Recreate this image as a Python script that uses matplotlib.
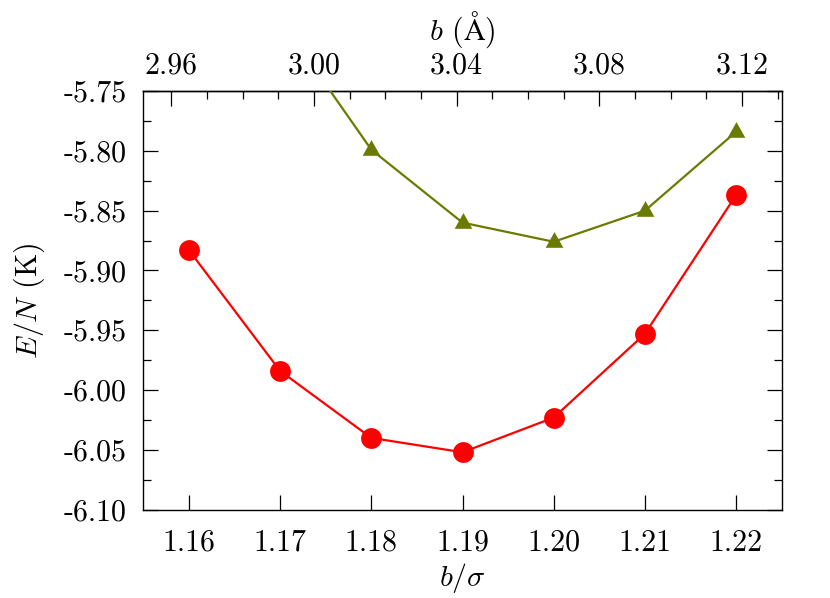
import matplotlib
matplotlib.use("Agg")
import matplotlib.pyplot as plt
from matplotlib.path import Path
from matplotlib.ticker import MultipleLocator, FixedLocator, FuncFormatter

# Data
b_sigma_red = [1.16, 1.17, 1.18, 1.19, 1.20, 1.21, 1.22]
energy_red = [-5.883, -5.984, -6.040, -6.052, -6.023, -5.953, -5.837]
b_sigma_green = [1.17, 1.18, 1.19, 1.20, 1.21, 1.22]
energy_green = [-5.690, -5.799, -5.860, -5.876, -5.850, -5.784]
top_ticks = [2.96, 3.00, 3.04, 3.08, 3.12]
sigma = 2.556  # Angstrom, conversion for top axis

plt.rcParams['font.family'] = 'serif'
plt.rcParams['font.serif'] = ['cmr10']
plt.rcParams['mathtext.fontset'] = 'cm'
plt.rcParams['axes.unicode_minus'] = False
plt.rcParams['axes.formatter.use_mathtext'] = False

fs = 21.5
fig = plt.figure(figsize=(8.3, 5.98), dpi=100)
ax = fig.add_axes([0.1727, 0.1477, 0.9418 - 0.1727, 0.8477 - 0.1477])

# triangle marker centred on centroid
tri = Path([(0, 1.0), (-0.85, -0.51), (0.85, -0.51), (0, 1.0)],
           [Path.MOVETO, Path.LINETO, Path.LINETO, Path.CLOSEPOLY])

olive = '#6b7b00'
ax.plot(b_sigma_green, energy_green, color=olive, lw=1.6, marker=tri,
        ms=15, mew=0, mfc=olive, zorder=3)
ax.plot(b_sigma_red, energy_red, color='#ff0000', lw=1.6, marker='o',
        ms=15, mew=0, mfc='#ff0000', zorder=3)

ax.set_xlim(1.155, 1.225)
ax.set_ylim(-6.10, -5.75)

ax.xaxis.set_major_locator(MultipleLocator(0.01))
ax.yaxis.set_major_locator(MultipleLocator(0.05))
ax.yaxis.set_minor_locator(MultipleLocator(0.025))
ax.xaxis.set_major_formatter(FuncFormatter(lambda v, p: '%.2f' % v))
ax.yaxis.set_major_formatter(FuncFormatter(lambda v, p: '%.2f' % v))

ax.tick_params(axis='x', which='both', direction='in', top=False, bottom=True,
               length=10.5, width=0.9, labelsize=fs, pad=14)
ax.tick_params(axis='y', which='major', direction='in', left=True, right=True,
               length=10.5, width=0.9, labelsize=fs, pad=12)
ax.tick_params(axis='y', which='minor', direction='in', left=True, right=True,
               length=6, width=0.9)
for s in ax.spines.values():
    s.set_linewidth(1.0)

ax.set_xlabel(r'$b/\sigma$', fontsize=fs, labelpad=3)
ax.set_ylabel(r'$E/N$ (K)', fontsize=fs, labelpad=12)

top = ax.secondary_xaxis('top', functions=(lambda x: x * sigma, lambda x: x / sigma))
top.xaxis.set_major_locator(FixedLocator(top_ticks))
top.xaxis.set_minor_locator(MultipleLocator(0.01))
top.xaxis.set_major_formatter(FuncFormatter(lambda v, p: '%.2f' % v))
top.tick_params(axis='x', which='major', direction='in', length=10.5, width=0.9,
                labelsize=fs, pad=8)
top.tick_params(axis='x', which='minor', direction='in', length=6, width=0.9)
top.spines['top'].set_linewidth(1.0)
top.set_xlabel(r'$b$ ($\mathrm{\AA}$)', fontsize=fs, labelpad=9)

fig.savefig('out.png', dpi=100)
